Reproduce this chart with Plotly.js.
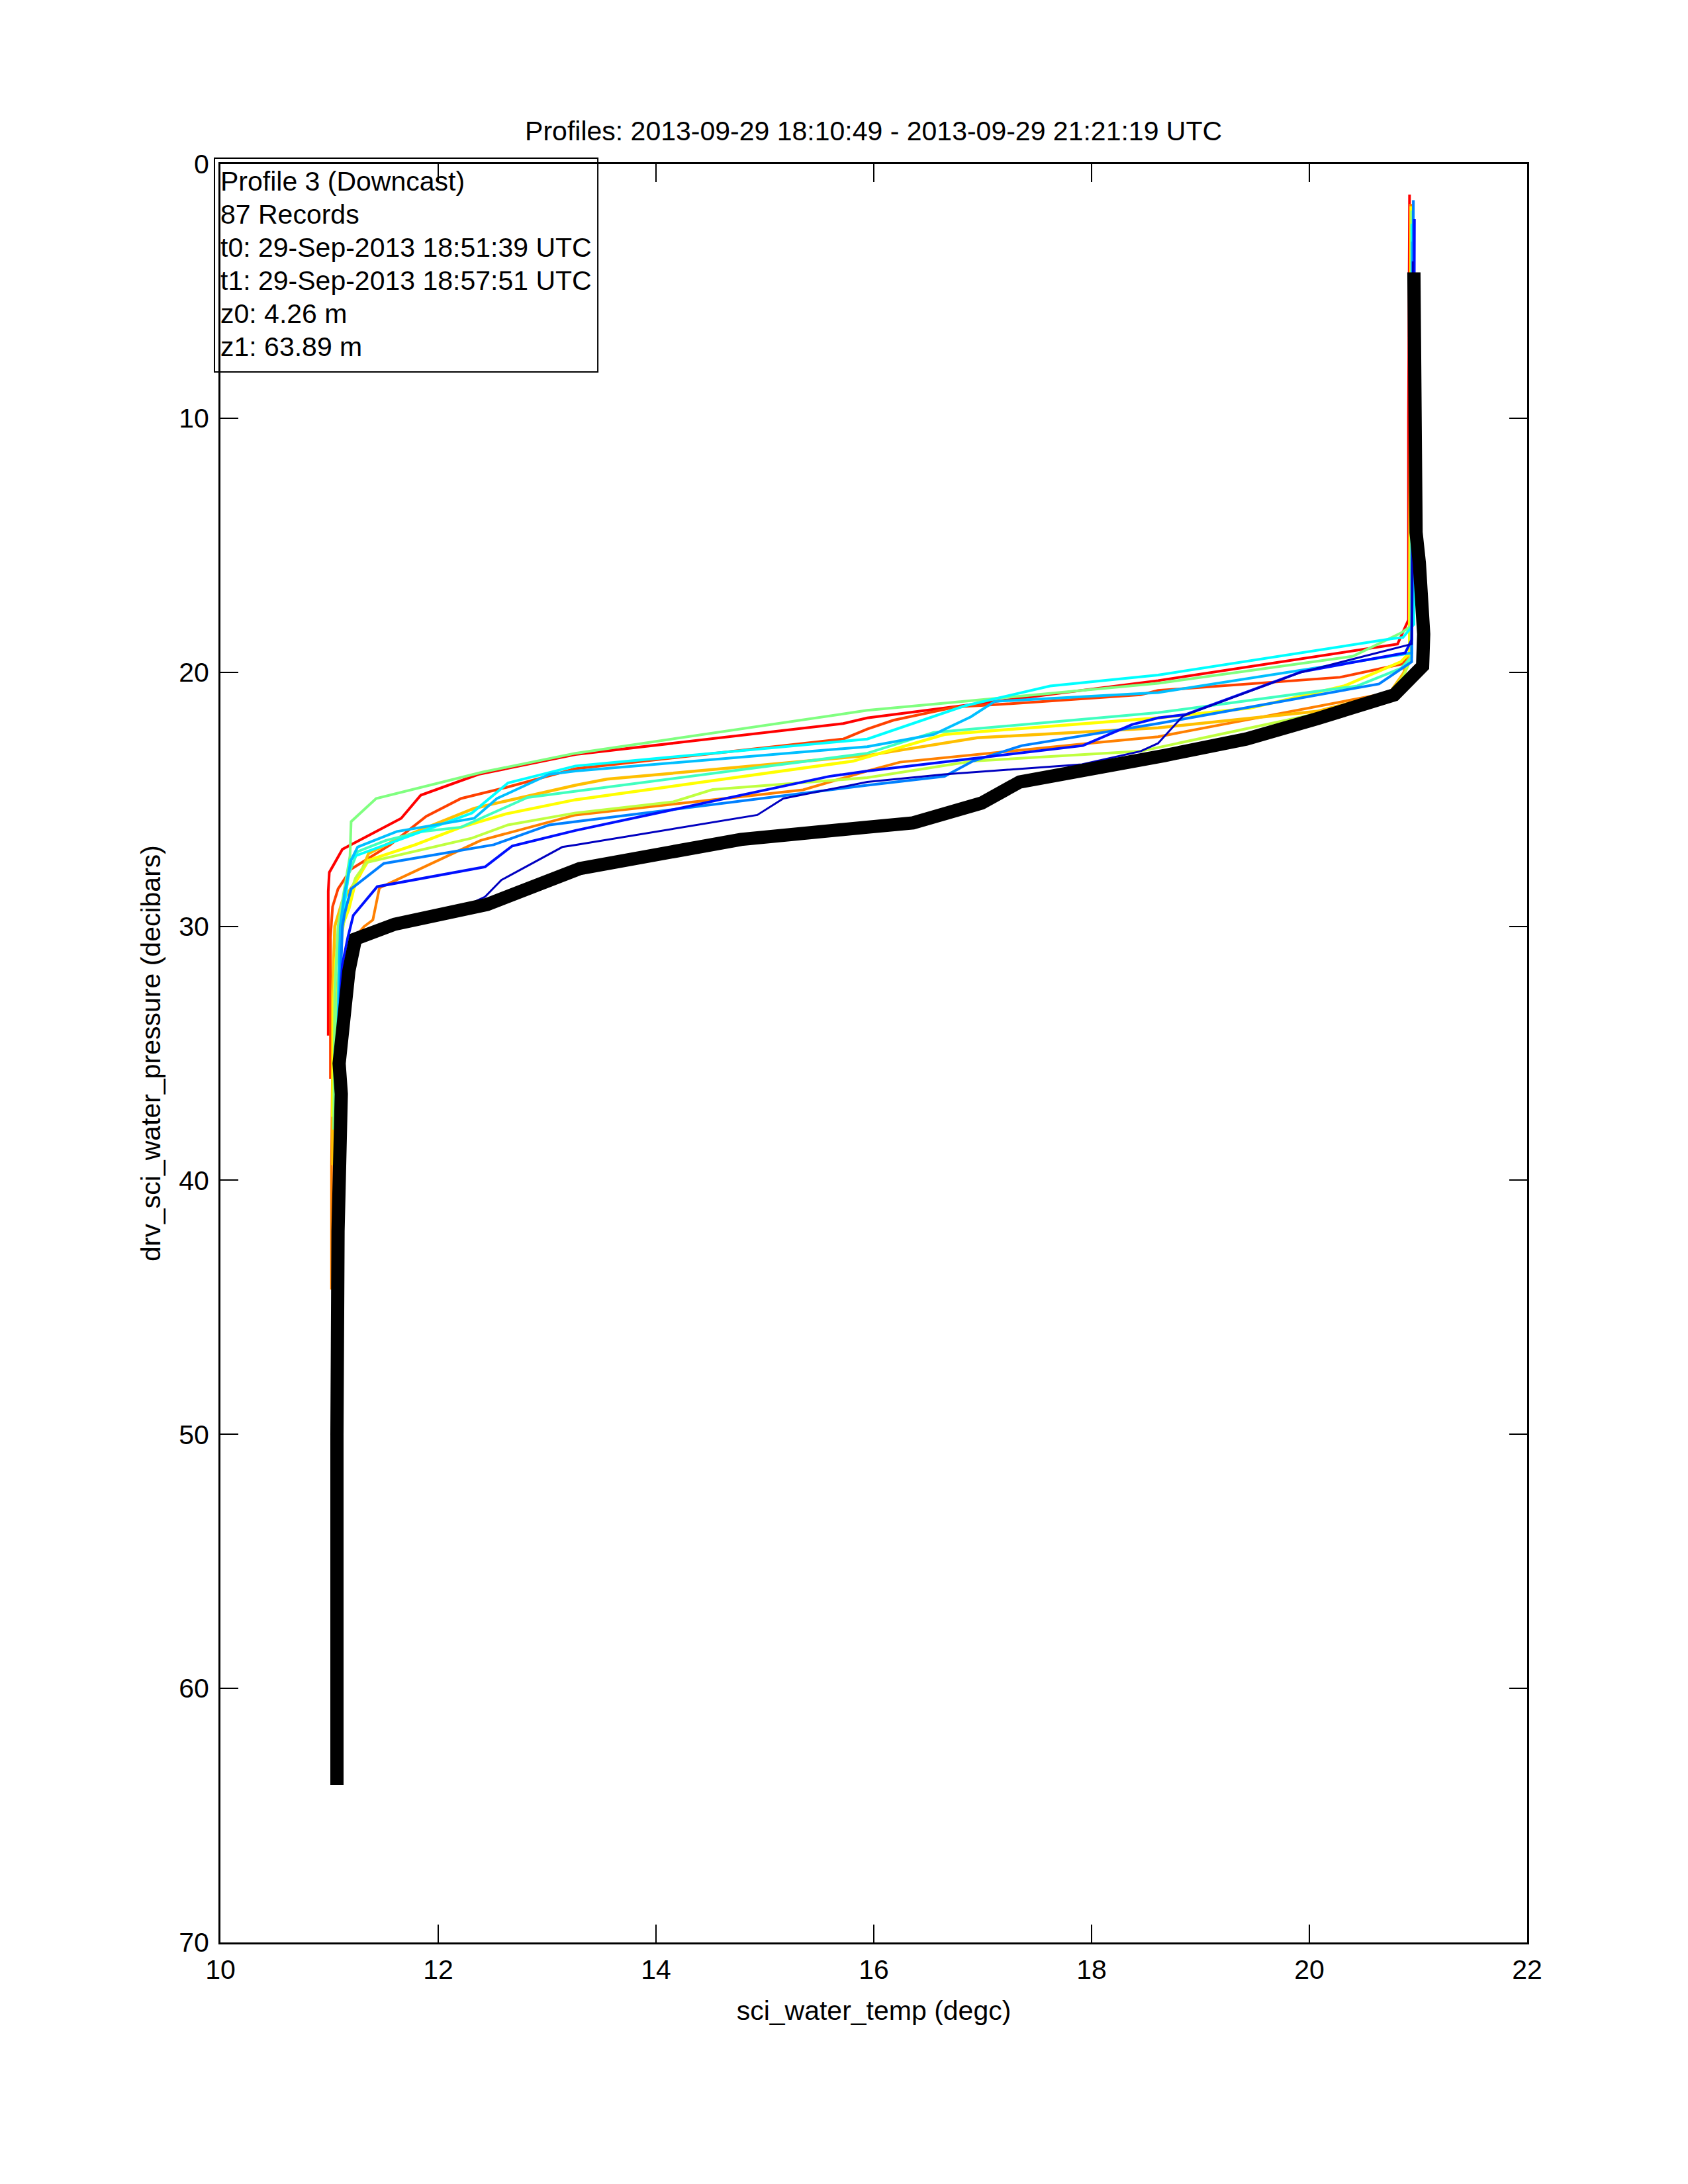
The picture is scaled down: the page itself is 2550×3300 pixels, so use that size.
<!DOCTYPE html>
<html>
<head>
<meta charset="utf-8">
<script src="https://cdn.plot.ly/plotly-3.0.1.min.js"></script>
<style>html,body{margin:0;padding:0;background:#fff;}</style>
</head>
<body>
<div id="chart" style="width:2550px;height:3300px;"></div>
<script>
// ---- Data ----
const titleText = "Profiles: 2013-09-29 18:10:49 - 2013-09-29 21:21:19 UTC";
const xTitle = "sci_water_temp (degc)";
const yTitle = "drv_sci_water_pressure (decibars)";
const infoLines = ["Profile 3 (Downcast)", "87 Records", "t0: 29-Sep-2013 18:51:39 UTC",
                   "t1: 29-Sep-2013 18:57:51 UTC", "z0: 4.26 m", "z1: 63.89 m"];
const xTicks = [10, 12, 14, 16, 18, 20, 22];
const yTicks = [0, 10, 20, 30, 40, 50, 60, 70];

const colors = ["#FF0000", "#FF4000", "#FF8000", "#FFBF00", "#FFFF00", "#BFFF40", "#80FF80",
                "#40FFBF", "#00FFFF", "#00BFFF", "#0080FF", "#0010FF", "#0000C0"];

const red_temp = [20.92, 20.91, 20.91, 20.81, 18.61, 15.94, 15.72, 13.26, 12.37, 11.84, 11.66, 11.12, 11.00, 10.99, 10.99];
const red_pres = [1.20, 10.0, 17.94, 18.89, 20.33, 21.80, 22.02, 23.24, 24.02, 24.84, 25.75, 26.97, 27.88, 28.62, 34.30];

const orangered_temp = [20.925, 20.92, 20.92, 20.86, 20.28, 18.61, 18.45, 17.11, 16.75, 16.18, 15.94, 15.72, 13.26, 12.62, 12.21, 11.89, 11.56, 11.20, 11.08, 11.03, 11.01, 11.01];
const orangered_pres = [1.57, 10.0, 19.2, 19.67, 20.20, 20.72, 20.89, 21.28, 21.37, 21.89, 22.24, 22.63, 23.80, 24.54, 24.97, 25.67, 26.79, 27.75, 28.53, 29.23, 30.44, 36.0];

const orange_temp = [20.93, 20.93, 20.92, 20.86, 20.74, 18.61, 17.97, 16.24, 15.94, 15.35, 14.16, 13.26, 12.39, 11.46, 11.40, 11.32, 11.20, 11.08, 11.03, 11.02, 11.02];
const orange_pres = [1.57, 10.0, 19.2, 20.11, 20.80, 22.54, 22.80, 23.54, 23.89, 24.63, 25.19, 25.62, 26.62, 28.49, 29.75, 30.01, 30.6, 32.0, 35.0, 39.4, 44.3];

const amber_temp = [20.935, 20.93, 20.92, 20.88, 20.74, 20.07, 18.61, 16.95, 15.94, 13.55, 13.26, 12.54, 12.33, 11.60, 11.36, 11.28, 11.12, 11.05, 11.03, 11.03];
const amber_pres = [1.66, 10.0, 19.4, 19.94, 20.80, 21.54, 22.19, 22.58, 23.28, 24.21, 24.45, 25.15, 25.36, 26.62, 27.14, 28.0, 29.0, 30.0, 32.6, 39.4];

const yellow_temp = [20.935, 20.93, 20.92, 20.84, 20.32, 19.46, 18.61, 16.65, 15.94, 15.81, 13.26, 12.62, 12.21, 11.79, 11.36, 11.24, 11.18, 11.10, 11.06, 11.04, 11.03];
const yellow_pres = [1.66, 10.0, 19.24, 19.59, 20.54, 21.41, 21.80, 22.45, 23.32, 23.50, 25.02, 25.58, 26.10, 26.79, 27.40, 28.27, 29.31, 30.2, 31.3, 33.0, 37.5];

const ygreen_temp = [20.94, 20.93, 20.93, 20.86, 20.72, 20.03, 18.45, 16.91, 15.94, 14.52, 14.16, 13.26, 12.64, 12.31, 11.34, 11.24, 11.16, 11.12, 11.08, 11.05];
const ygreen_pres = [1.83, 10.0, 19.5, 20.2, 20.9, 21.67, 23.11, 23.50, 24.15, 24.62, 25.10, 25.54, 26.01, 26.53, 27.49, 28.10, 29.14, 30.2, 32.0, 36.0];

const lgreen_temp = [20.94, 20.95, 20.96, 20.84, 20.40, 18.61, 15.94, 13.26, 12.41, 11.43, 11.20, 11.19, 11.12, 11.08, 11.05, 11.04];
const lgreen_pres = [1.83, 10.0, 18.11, 18.46, 19.37, 20.44, 21.50, 23.19, 23.93, 24.97, 25.88, 27.23, 29.0, 30.0, 32.6, 38.0];

const aqua_temp = [20.94, 20.94, 20.94, 20.84, 20.44, 18.61, 16.55, 15.94, 13.26, 12.82, 12.21, 11.85, 11.52, 11.26, 11.18, 11.12, 11.09, 11.06];
const aqua_pres = [2.35, 10.0, 19.4, 19.85, 20.54, 21.59, 22.37, 23.19, 24.70, 24.93, 26.10, 26.27, 26.62, 27.06, 27.92, 29.57, 31.0, 37.0];

const cyan_temp = [20.945, 20.95, 20.96, 20.86, 20.76, 18.61, 17.62, 16.83, 15.94, 13.26, 12.64, 12.31, 11.24, 11.19, 11.15, 11.10, 11.07];
const cyan_pres = [2.35, 10.0, 18.11, 18.63, 18.68, 20.11, 20.54, 21.33, 22.63, 23.69, 24.36, 25.54, 27.23, 27.40, 28.70, 30.5, 37.0];

const dsky_temp = [20.945, 20.94, 20.94, 18.61, 17.11, 16.89, 16.55, 15.94, 13.26, 13.02, 12.54, 12.33, 11.62, 11.26, 11.20, 11.14, 11.10, 11.07];
const dsky_pres = [3.05, 10.0, 19.24, 20.80, 21.15, 21.76, 22.45, 22.93, 23.89, 24.02, 24.97, 25.75, 26.27, 26.88, 27.40, 28.70, 30.0, 36.0];

const dodger_temp = [20.955, 20.95, 20.94, 20.64, 18.61, 17.36, 16.91, 16.65, 15.94, 13.26, 13.02, 12.51, 11.50, 11.20, 11.14, 11.12, 11.08];
const dodger_pres = [1.42, 10.0, 19.59, 20.46, 22.02, 22.89, 23.50, 24.10, 24.45, 25.88, 26.01, 26.79, 27.53, 28.53, 29.5, 30.0, 35.0];

const blue_temp = [20.965, 20.96, 20.94, 20.88, 19.93, 18.86, 18.61, 18.37, 17.92, 15.94, 15.59, 13.26, 12.68, 12.43, 11.44, 11.22, 11.17, 11.12, 11.10];
const blue_pres = [2.16, 10.0, 18.72, 19.24, 19.98, 21.67, 21.80, 22.06, 22.89, 23.89, 24.10, 26.23, 26.84, 27.66, 28.44, 29.57, 30.44, 31.5, 33.0];

const dblue_temp = [20.95, 20.95, 20.94, 19.91, 18.84, 18.65, 18.61, 18.45, 17.91, 16.65, 15.94, 15.17, 14.93, 13.26, 13.14, 12.58, 12.43, 12.30];
const dblue_pres = [3.83, 10.0, 18.89, 20.02, 21.72, 22.63, 22.80, 23.11, 23.63, 24.02, 24.32, 24.97, 25.62, 26.80, 26.88, 28.18, 28.84, 29.1];

// current profile (Profile 3, downcast) - thick black
const cur_temp = [20.96, 20.96, 20.965, 20.98, 21.01, 21.04, 21.05, 21.04, 20.78, 20.07, 19.42, 18.67, 17.34, 16.99, 16.36, 15.94, 14.78, 13.30, 12.70, 12.45, 11.60, 11.24, 11.18, 11.14, 11.12, 11.09, 11.11, 11.09, 11.08, 11.07, 11.07];
const cur_pres = [4.26, 10.6, 12.0, 14.5, 15.7, 17.0, 18.5, 19.76, 20.89, 21.83, 22.63, 23.28, 24.32, 25.15, 25.93, 26.10, 26.58, 27.73, 28.70, 29.14, 29.92, 30.5, 31.75, 33.5, 34.3, 35.4, 36.6, 38.5, 42.0, 50.0, 63.8];

// ---- Build traces ----
const profiles = [
  [red_temp, red_pres], [orangered_temp, orangered_pres], [orange_temp, orange_pres],
  [amber_temp, amber_pres], [yellow_temp, yellow_pres], [ygreen_temp, ygreen_pres],
  [lgreen_temp, lgreen_pres], [aqua_temp, aqua_pres], [cyan_temp, cyan_pres],
  [dsky_temp, dsky_pres], [dodger_temp, dodger_pres], [blue_temp, blue_pres],
  [dblue_temp, dblue_pres]
];
const widths = [4, 4, 4, 4.5, 4.5, 4, 4, 4, 4, 4, 4, 4, 3];
const traces = profiles.map((p, i) => ({
  x: p[0], y: p[1], type: 'scatter', mode: 'lines',
  line: {color: colors[i], width: widths[i]}, hoverinfo: 'skip', showlegend: false
}));
traces.push({x: cur_temp, y: cur_pres, type: 'scatter', mode: 'lines',
  line: {color: '#000000', width: 20}, hoverinfo: 'skip', showlegend: false});

const FONT = 'Liberation Sans, Arial, Helvetica, sans-serif';
const fs = 41;

const annotations = infoLines.map((t, i) => ({
  text: t, xref: 'paper', yref: 'paper', x: -0.001, y: 0.9903 - i * 0.01861,
  xanchor: 'left', yanchor: 'middle', showarrow: false,
  font: {family: FONT, size: fs, color: '#000'}
}));

const axisCommon = {
  showgrid: false, zeroline: false, showline: true, linecolor: '#000', linewidth: 3,
  mirror: 'ticks', ticks: 'inside', ticklen: 27, tickwidth: 2, tickcolor: '#000',
  tickfont: {family: FONT, size: fs, color: '#000'}
};

const layout = {
  width: 2550, height: 3300,
  paper_bgcolor: '#fff', plot_bgcolor: '#fff',
  margin: {l: 333, r: 243, t: 248, b: 365},
  font: {family: FONT, size: fs, color: '#000'},
  title: {text: titleText, font: {family: FONT, size: fs, color: '#000'},
          x: 0.5175, xanchor: 'center', y: 1 - 198 / 3300, yanchor: 'middle', yref: 'container'},
  xaxis: Object.assign({}, axisCommon, {
    range: [10, 22], tickvals: xTicks, ticktext: xTicks.map(String),
    ticklabelstandoff: 3,
    title: {text: xTitle, font: {family: FONT, size: fs, color: '#000'}, standoff: 26}
  }),
  yaxis: Object.assign({}, axisCommon, {
    range: [70, 0], tickvals: yTicks, ticktext: yTicks.map(String),
    ticklabelstandoff: 6,
    title: {text: yTitle, font: {family: FONT, size: fs, color: '#000'}, standoff: 15}
  }),
  shapes: [{type: 'rect', xref: 'paper', yref: 'paper', x0: -0.00456, x1: 0.2888, y0: 0.8831, y1: 1.00335,
            line: {color: '#000', width: 2}, fillcolor: 'rgba(0,0,0,0)'}],
  annotations: annotations
};

Plotly.newPlot('chart', traces, layout, {staticPlot: true});
</script>
</body>
</html>
